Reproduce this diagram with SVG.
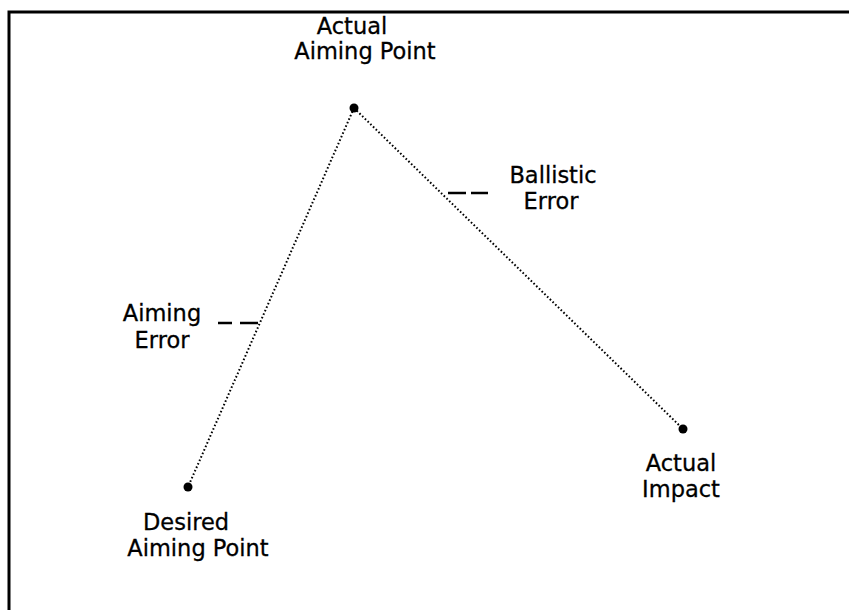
<svg xmlns="http://www.w3.org/2000/svg" width="849" height="610" viewBox="0 0 849 610">
<style>
text{font-family:"DejaVu Sans","Liberation Sans",sans-serif;font-size:22.5px;fill:#000;text-anchor:middle;stroke:#000;stroke-width:0.3}
.frame{stroke:#000;stroke-width:3;fill:none}
.dot{fill:#000}
.conn{stroke:#000;stroke-width:2;stroke-dasharray:1.6 2.2;fill:none}
.dash{stroke:#000;stroke-width:2.5}
</style>
<rect width="849" height="610" fill="#fff"/>
<path class="frame" d="M9,610 V12 H849"/>
<g id="connectors">
<line class="conn" x1="354" y1="108" x2="188" y2="487"/>
<line class="conn" x1="354" y1="108" x2="683" y2="429"/>
</g>
<g id="actual-aiming-point">
<circle class="dot" cx="354" cy="108" r="4.5"/>
<text x="352" y="34">Actual</text>
<text x="365" y="59">Aiming Point</text>
</g>
<g id="desired-aiming-point">
<circle class="dot" cx="188" cy="487" r="4.5"/>
<text x="186" y="530">Desired</text>
<text x="198" y="556">Aiming Point</text>
</g>
<g id="actual-impact">
<circle class="dot" cx="683" cy="429" r="4.5"/>
<text x="681" y="471">Actual</text>
<text x="681" y="497">Impact</text>
</g>
<g id="aiming-error">
<text x="162" y="321">Aiming</text>
<text x="162" y="348">Error</text>
<line class="dash" x1="218" y1="323" x2="232" y2="323"/>
<line class="dash" x1="240" y1="323" x2="258" y2="323"/>
</g>
<g id="ballistic-error">
<text x="553" y="183">Ballistic</text>
<text x="551" y="209">Error</text>
<line class="dash" x1="448" y1="193" x2="466" y2="193"/>
<line class="dash" x1="471" y1="193" x2="488" y2="193"/>
</g>
</svg>
